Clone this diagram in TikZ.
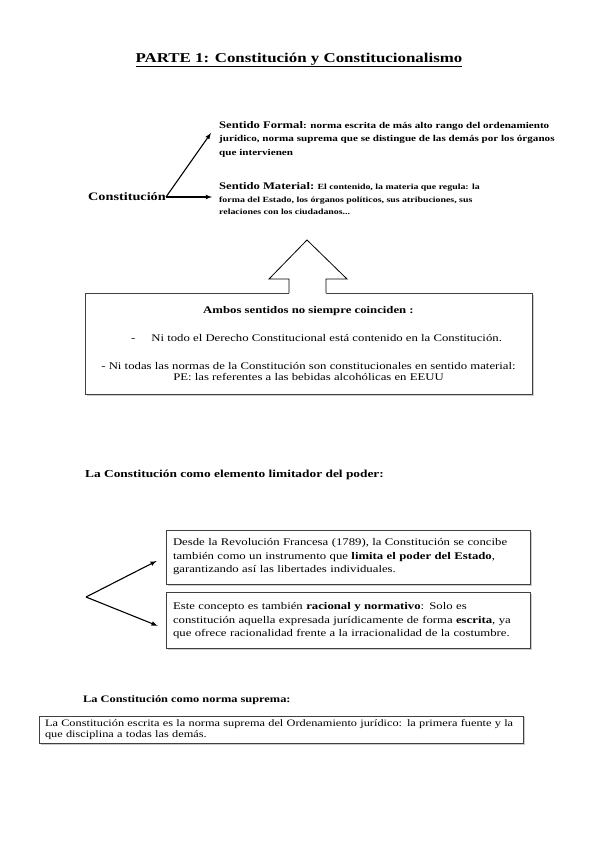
\documentclass[tikz,border=0pt]{standalone}
\usepackage{fontspec}
\setmainfont{Liberation Serif}[FakeStretch=1.25]
\usetikzlibrary{arrows,shadows,positioning}

\begin{document}
\begin{tikzpicture}[x=1pt,y=-1pt,
      caja/.style={rectangle, draw=black!75, fill=white, line width=0.8pt, drop shadow={shadow xshift=1.5pt, shadow yshift=-1.5pt, opacity=0.4}},
      titel/.style={anchor=west, inner sep=0pt, font=\bfseries\fontsize{10.5}{12}\selectfont},
      pfeil/.style={-latex, line width=1.1pt}]

\useasboundingbox (0,0) rectangle (599,848);

\node[font=\bfseries\fontsize{13.5}{16}\selectfont] (parte) at (299,60) {\underline{PARTE 1: Constitución y Constitucionalismo}};

\node[anchor=east, inner sep=0pt, font=\bfseries\fontsize{11.4}{14}\selectfont] (constitucion) at (166,197) {Constitución};
\node[anchor=west, inner sep=0pt, align=left, font=\bfseries\fontsize{8.9}{13.5}\selectfont] (formal) at (219,139) {{\fontsize{10.1}{13.5}\selectfont Sentido Formal}: norma escrita de más alto rango del ordenamiento\\ jurídico, norma suprema que se distingue de las demás por los órganos\\ que intervienen};
\node[anchor=west, inner sep=0pt, align=left, font=\bfseries\fontsize{7.9}{12.5}\selectfont] (material) at (219,199) {{\fontsize{10.1}{12.5}\selectfont Sentido Material:} El contenido, la materia que regula: la\\ forma del Estado, los órganos políticos, sus atribuciones, sus\\ relaciones con los ciudadanos...};
\draw[pfeil] (constitucion.east) -- ([xshift=-8pt,yshift=6pt]formal.west);
\draw[pfeil] (constitucion.east) -- ([xshift=-7pt]constitucion.east -| material.west);

\node[caja, minimum width=447pt, minimum height=101pt, align=center, font=\fontsize{10.2}{11}\selectfont] (ambos) at (308.5,343.5) {\textbf{Ambos sentidos no siempre coinciden :}\\[17pt] \hspace*{16pt}-\hspace{16pt}Ni todo el Derecho Constitucional está contenido en la Constitución.\\[17pt] - Ni todas las normas de la Constitución son constitucionales en sentido material:\\ PE: las referentes a las bebidas alcohólicas en EEUU};
\coordinate (spitze) at (307,240);
\fill[white] (289,294.5) -- (289,279) -- (269,279) -- (spitze) -- (347,279) -- (326,279) -- (326,294.5) -- cycle;
\draw[line width=0.8pt] (289,293) -- (289,279) -- (269,279) -- (spitze) -- (347,279) -- (326,279) -- (326,293);

\node[titel, font=\bfseries\fontsize{10.7}{12}\selectfont] (limitador) at (85,475) {La Constitución como elemento limitador del poder:};
\node[caja, minimum width=364pt, minimum height=54pt, text width=350pt, inner xsep=7pt, align=left, font=\fontsize{10.2}{13.5}\selectfont] (revolucion) at (348,557) {Desde la Revolución Francesa (1789), la Constitución se concibe\\ también como un instrumento que \textbf{limita el poder del Estado},\\ garantizando así las libertades individuales.};
\node[caja, minimum width=364pt, minimum height=56pt, text width=350pt, inner xsep=7pt, align=left, font=\fontsize{10.2}{13.5}\selectfont, below=8pt of revolucion] (racional) {Este concepto es también \textbf{racional y normativo}: Solo es\\ constitución aquella expresada jurídicamente de forma \textbf{escrita}, ya\\ que ofrece racionalidad frente a la irracionalidad de la costumbre.};
\coordinate (ecke) at (86,597);
\draw[pfeil] (ecke) -- ([xshift=-9pt,yshift=-4pt]revolucion.west);
\draw[pfeil] (ecke) -- ([xshift=-8pt,yshift=-5pt]racional.west);

\node[titel, font=\bfseries\fontsize{9.9}{12}\selectfont] (suprema) at (83,700) {La Constitución como norma suprema:};
\node[caja, minimum width=484pt, minimum height=25pt, text width=472pt, inner xsep=6pt, align=left, font=\fontsize{9.85}{11.5}\selectfont] (escrita) at (281,729.5) {La Constitución escrita es la norma suprema del Ordenamiento jurídico: la primera fuente y la\\ que disciplina a todas las demás.};

\end{tikzpicture}
\end{document}
